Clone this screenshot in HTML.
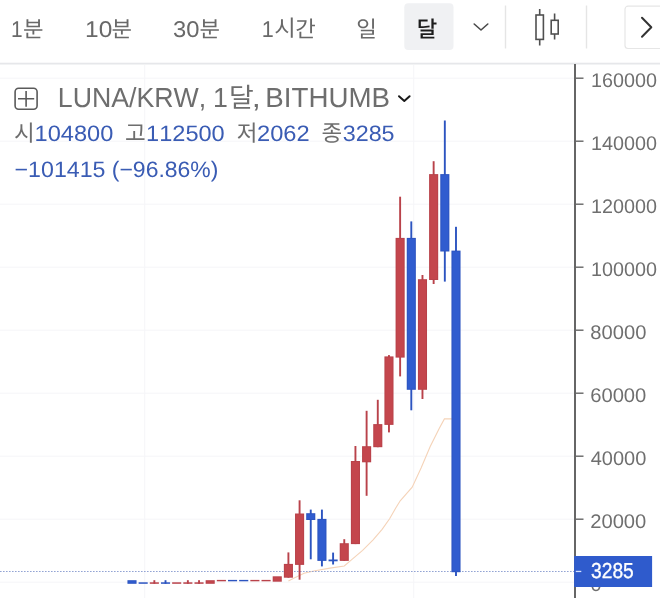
<!DOCTYPE html>
<html><head><meta charset="utf-8"><title>chart</title>
<style>
html,body{margin:0;padding:0;background:#fff;}
body{width:660px;height:598px;overflow:hidden;}
svg{display:block;font-family:"Liberation Sans","Noto Sans CJK KR",sans-serif;font-kerning:none;text-rendering:geometricPrecision;opacity:0.999;will-change:transform;}
</style></head><body>
<svg width="660" height="598" viewBox="0 0 660 598">
<rect width="660" height="598" fill="#fff"/>
<rect x="0" y="77.7" width="574" height="1" fill="#f5f6f8"/>
<rect x="0" y="140.7" width="574" height="1" fill="#f5f6f8"/>
<rect x="0" y="203.7" width="574" height="1" fill="#f5f6f8"/>
<rect x="0" y="266.7" width="574" height="1" fill="#f5f6f8"/>
<rect x="0" y="329.7" width="574" height="1" fill="#f5f6f8"/>
<rect x="0" y="392.7" width="574" height="1" fill="#f5f6f8"/>
<rect x="0" y="455.7" width="574" height="1" fill="#f5f6f8"/>
<rect x="0" y="518.7" width="574" height="1" fill="#f5f6f8"/>
<rect x="0" y="581.7" width="574" height="1" fill="#f5f6f8"/>
<rect x="144.2" y="65" width="1" height="533" fill="#f5f6f8"/>
<rect x="413.2" y="65" width="1" height="533" fill="#f5f6f8"/>
<rect x="0" y="62.7" width="660" height="1.8" fill="#e6e7ea"/>
<rect x="404.3" y="3.3" width="49.2" height="46.7" rx="4" fill="#f0f1f3"/>
<rect x="504.8" y="5.5" width="1.4" height="43" fill="#e5e5e5"/>
<rect x="585.8" y="5.5" width="1.4" height="43" fill="#e5e5e5"/>
<path d="M474.2 24 L481 30 L487.8 24" fill="none" stroke="#4a4a4a" stroke-width="1.6" stroke-linecap="round" stroke-linejoin="round"/>
<g fill="none" stroke="#505050" stroke-width="1.6"><path d="M539.7 9V15M539.7 39.4V45.5M554.6 13.6V20.3M554.6 34V39.4"/><rect x="536" y="15" width="7.4" height="24.4"/><rect x="551.2" y="20.3" width="7" height="13.7"/></g>
<rect x="625" y="6.2" width="50" height="42.3" rx="3" fill="#fff" stroke="#e6e6e6" stroke-width="1.2"/>
<path d="M642 17.8 L651.3 27.3 L642 36.8" fill="none" stroke="#333" stroke-width="2" stroke-linecap="round" stroke-linejoin="round"/>
<text transform="translate(11.11,36.60) scale(0.9155,1)" font-size="22.8" fill="#696969" font-weight="normal">1</text>
<text x="23.11" y="36.81" font-size="22.3" fill="#696969" font-weight="normal" font-family="'Liberation Sans','Noto Sans CJK KR',sans-serif">분</text>
<text transform="translate(85.04,36.60) scale(1.0733,1)" font-size="22.8" fill="#696969" font-weight="normal">10</text>
<text x="111.41" y="36.81" font-size="22.3" fill="#696969" font-weight="normal" font-family="'Liberation Sans','Noto Sans CJK KR',sans-serif">분</text>
<text transform="translate(172.99,36.60) scale(1.0423,1)" font-size="22.8" fill="#696969" font-weight="normal">30</text>
<text x="199.41" y="36.81" font-size="22.3" fill="#696969" font-weight="normal" font-family="'Liberation Sans','Noto Sans CJK KR',sans-serif">분</text>
<text transform="translate(261.76,36.60) scale(0.9461,1)" font-size="22.8" fill="#696969" font-weight="normal">1</text>
<text transform="translate(274.15,36.34) scale(1.0502,1)" font-size="22.3" fill="#696969" font-weight="normal" font-family="'Liberation Sans','Noto Sans CJK KR',sans-serif">시</text>
<text x="295.27" y="36.61" font-size="22.3" fill="#696969" font-weight="normal" font-family="'Liberation Sans','Noto Sans CJK KR',sans-serif">간</text>
<text x="356.13" y="36.62" font-size="22.4" fill="#696969" font-weight="normal" font-family="'Liberation Sans','Noto Sans CJK KR',sans-serif">일</text>
<text x="416.77" y="36.91" font-size="22.3" fill="#1c1c1c" font-weight="500" font-family="'Liberation Sans','Noto Sans CJK KR',sans-serif">달</text>
<rect x="15.1" y="88.3" width="22" height="21" rx="3.5" fill="none" stroke="#5a5a5a" stroke-width="1.6"/>
<path d="M26.1 91V106.8M18 98.8H34.2" stroke="#5a5a5a" stroke-width="1.6" fill="none"/>
<text transform="translate(57.81,107.00) scale(0.9712,1)" font-size="27.5" fill="#6e6e6e" font-weight="normal">LUNA/KRW,</text>
<text transform="translate(212.97,107.00) scale(0.9699,1)" font-size="27.5" fill="#6e6e6e" font-weight="normal">1</text>
<text x="228.98" y="107.33" font-size="26.9" fill="#6e6e6e" font-weight="normal" font-family="'Liberation Sans','Noto Sans CJK KR',sans-serif">달</text>
<text transform="translate(251.67,107.00) scale(1.1856,1)" font-size="27.5" fill="#6e6e6e" font-weight="normal">,</text>
<text transform="translate(265.33,107.00) scale(1.0080,1)" font-size="27.5" fill="#6e6e6e" font-weight="normal">BITHUMB</text>
<path d="M399 96.2 L404.3 101 L409.6 96.2" fill="none" stroke="#1a1a1a" stroke-width="2" stroke-linecap="round" stroke-linejoin="round"/>
<text x="13.99" y="140.73" font-size="22.5" fill="#6e6e6e" font-weight="normal" font-family="'Liberation Sans','Noto Sans CJK KR',sans-serif">시</text>
<text transform="translate(34.60,140.80) scale(1.0579,1)" font-size="22.3" fill="#3a5cb4" font-weight="normal">104800</text>
<text x="124.97" y="140.90" font-size="22.5" fill="#6e6e6e" font-weight="normal" font-family="'Liberation Sans','Noto Sans CJK KR',sans-serif">고</text>
<text transform="translate(146.11,140.80) scale(1.0565,1)" font-size="22.3" fill="#3a5cb4" font-weight="normal">112500</text>
<text x="236.75" y="140.53" font-size="22.5" fill="#6e6e6e" font-weight="normal" font-family="'Liberation Sans','Noto Sans CJK KR',sans-serif">저</text>
<text transform="translate(257.01,140.80) scale(1.0619,1)" font-size="22.3" fill="#3a5cb4" font-weight="normal">2062</text>
<text x="321.38" y="140.79" font-size="22.5" fill="#6e6e6e" font-weight="normal" font-family="'Liberation Sans','Noto Sans CJK KR',sans-serif">종</text>
<text transform="translate(342.71,140.80) scale(1.0455,1)" font-size="22.3" fill="#3a5cb4" font-weight="normal">3285</text>
<text transform="translate(14.56,176.80) scale(1.0398,1)" font-size="22.3" fill="#3a5cb4" font-weight="normal">−101415</text>
<text transform="translate(111.78,176.80) scale(1.0304,1)" font-size="22.3" fill="#3a5cb4" font-weight="normal">(−96.86%)</text>
<polyline fill="none" stroke="#f5d3b8" stroke-width="1.1" points="288.4,581.1 293.2,578.6 304.1,573.2 315.0,570.7 330.0,568.1 344.3,566.0 352.0,559.4 362.6,550.4 373.1,539.8 382.1,529.3 389.6,518.8 395.6,508.3 400.2,500.8 412.2,487.2 421.2,467.7 430.2,446.6 439.2,428.6 444.4,418.9 451.9,418.9"/>
<line x1="0" y1="571.5" x2="574" y2="571.5" stroke="#93a4d4" stroke-width="1" stroke-dasharray="1.6 1.4"/>
<rect x="127.45" y="580.2" width="9.1" height="3.6" fill="#2c54c0"/>
<rect x="128.45" y="581.2" width="7.1" height="1.6" fill="#305ccf"/>
<rect x="138.62" y="582.3" width="9.1" height="1.5" fill="#2c54c0"/>
<rect x="153.39" y="580.2" width="1.9" height="3.6" fill="#b9424a"/>
<rect x="149.79" y="582.3" width="9.1" height="1.5" fill="#b9424a"/>
<rect x="164.57" y="580.2" width="1.9" height="3.6" fill="#2c54c0"/>
<rect x="160.97" y="582.3" width="9.1" height="1.5" fill="#2c54c0"/>
<rect x="172.14" y="582.3" width="9.1" height="1.5" fill="#b9424a"/>
<rect x="186.91" y="580.2" width="1.9" height="3.6" fill="#b9424a"/>
<rect x="183.31" y="582.3" width="9.1" height="1.5" fill="#b9424a"/>
<rect x="198.08" y="580.2" width="1.9" height="3.6" fill="#b9424a"/>
<rect x="194.48" y="582.3" width="9.1" height="1.5" fill="#b9424a"/>
<rect x="205.65" y="580.2" width="9.1" height="3.6" fill="#b9424a"/>
<rect x="206.65" y="581.2" width="7.1" height="1.6" fill="#c4464d"/>
<rect x="216.83" y="579.9" width="9.1" height="1.4" fill="#b9424a"/>
<rect x="228.00" y="579.9" width="9.1" height="1.4" fill="#2c54c0"/>
<rect x="239.17" y="579.9" width="9.1" height="1.4" fill="#2c54c0"/>
<rect x="250.34" y="579.9" width="9.1" height="1.4" fill="#b9424a"/>
<rect x="261.51" y="579.9" width="9.1" height="1.4" fill="#b9424a"/>
<rect x="272.69" y="576.3" width="9.1" height="5.4" fill="#b9424a"/>
<rect x="273.69" y="577.3" width="7.1" height="3.4" fill="#c4464d"/>
<rect x="287.46" y="552.4" width="1.9" height="25.3" fill="#b9424a"/>
<rect x="283.86" y="563.9" width="9.1" height="13.8" fill="#b9424a"/>
<rect x="284.86" y="564.9" width="7.1" height="11.8" fill="#c4464d"/>
<rect x="298.63" y="500.3" width="1.9" height="79.4" fill="#b9424a"/>
<rect x="295.03" y="513.5" width="9.1" height="51.4" fill="#b9424a"/>
<rect x="296.03" y="514.5" width="7.1" height="49.4" fill="#c4464d"/>
<rect x="309.80" y="509.6" width="1.9" height="49.7" fill="#2c54c0"/>
<rect x="306.20" y="513.2" width="9.1" height="6.8" fill="#2c54c0"/>
<rect x="307.20" y="514.2" width="7.1" height="4.8" fill="#305ccf"/>
<rect x="320.97" y="509.6" width="1.9" height="56.8" fill="#2c54c0"/>
<rect x="317.37" y="518.9" width="9.1" height="42.0" fill="#2c54c0"/>
<rect x="318.37" y="519.9" width="7.1" height="40.0" fill="#305ccf"/>
<rect x="332.15" y="552.6" width="1.9" height="11.9" fill="#2c54c0"/>
<rect x="328.55" y="559.5" width="9.1" height="1.8" fill="#2c54c0"/>
<rect x="343.32" y="539.2" width="1.9" height="21.7" fill="#b9424a"/>
<rect x="339.72" y="543.2" width="9.1" height="17.7" fill="#b9424a"/>
<rect x="340.72" y="544.2" width="7.1" height="15.7" fill="#c4464d"/>
<rect x="354.49" y="446.0" width="1.9" height="98.1" fill="#b9424a"/>
<rect x="350.89" y="461.0" width="9.1" height="83.1" fill="#b9424a"/>
<rect x="351.89" y="462.0" width="7.1" height="81.1" fill="#c4464d"/>
<rect x="365.66" y="410.8" width="1.9" height="85.0" fill="#b9424a"/>
<rect x="362.06" y="446.2" width="9.1" height="16.1" fill="#b9424a"/>
<rect x="363.06" y="447.2" width="7.1" height="14.1" fill="#c4464d"/>
<rect x="376.83" y="399.8" width="1.9" height="47.4" fill="#b9424a"/>
<rect x="373.23" y="424.1" width="9.1" height="23.1" fill="#b9424a"/>
<rect x="374.23" y="425.1" width="7.1" height="21.1" fill="#c4464d"/>
<rect x="388.01" y="355.1" width="1.9" height="77.3" fill="#b9424a"/>
<rect x="384.41" y="356.4" width="9.1" height="68.5" fill="#b9424a"/>
<rect x="385.41" y="357.4" width="7.1" height="66.5" fill="#c4464d"/>
<rect x="399.18" y="196.7" width="1.9" height="179.7" fill="#b9424a"/>
<rect x="395.58" y="237.9" width="9.1" height="119.7" fill="#b9424a"/>
<rect x="396.58" y="238.9" width="7.1" height="117.7" fill="#c4464d"/>
<rect x="410.35" y="221.4" width="1.9" height="188.9" fill="#2c54c0"/>
<rect x="406.75" y="237.9" width="9.1" height="151.9" fill="#2c54c0"/>
<rect x="407.75" y="238.9" width="7.1" height="149.9" fill="#305ccf"/>
<rect x="421.52" y="275.0" width="1.9" height="124.0" fill="#b9424a"/>
<rect x="417.92" y="279.2" width="9.1" height="110.6" fill="#b9424a"/>
<rect x="418.92" y="280.2" width="7.1" height="108.6" fill="#c4464d"/>
<rect x="432.69" y="161.2" width="1.9" height="122.8" fill="#b9424a"/>
<rect x="429.09" y="174.1" width="9.1" height="105.9" fill="#b9424a"/>
<rect x="430.09" y="175.1" width="7.1" height="103.9" fill="#c4464d"/>
<rect x="443.87" y="120.5" width="1.9" height="161.1" fill="#2c54c0"/>
<rect x="440.27" y="174.1" width="9.1" height="77.4" fill="#2c54c0"/>
<rect x="441.27" y="175.1" width="7.1" height="75.4" fill="#305ccf"/>
<rect x="455.04" y="226.8" width="1.9" height="349.2" fill="#2c54c0"/>
<rect x="451.44" y="250.6" width="9.1" height="321.6" fill="#2c54c0"/>
<rect x="452.44" y="251.6" width="7.1" height="319.6" fill="#305ccf"/>
<rect x="574" y="64" width="2" height="534" fill="#666"/>
<rect x="576" y="77.5" width="7.5" height="1.4" fill="#666"/>
<text transform="translate(591.09,87.00) scale(0.9986,1)" font-size="19.8" fill="#6f6f6f" font-weight="normal">160000</text>
<rect x="576" y="140.5" width="7.5" height="1.4" fill="#666"/>
<text transform="translate(591.09,150.00) scale(0.9986,1)" font-size="19.8" fill="#6f6f6f" font-weight="normal">140000</text>
<rect x="576" y="203.5" width="7.5" height="1.4" fill="#666"/>
<text transform="translate(591.09,213.00) scale(0.9986,1)" font-size="19.8" fill="#6f6f6f" font-weight="normal">120000</text>
<rect x="576" y="266.5" width="7.5" height="1.4" fill="#666"/>
<text transform="translate(591.09,276.00) scale(0.9986,1)" font-size="19.8" fill="#6f6f6f" font-weight="normal">100000</text>
<rect x="576" y="329.5" width="7.5" height="1.4" fill="#666"/>
<text transform="translate(590.32,339.00) scale(1.0182,1)" font-size="19.8" fill="#6f6f6f" font-weight="normal">80000</text>
<rect x="576" y="392.5" width="7.5" height="1.4" fill="#666"/>
<text transform="translate(590.17,402.00) scale(1.0210,1)" font-size="19.8" fill="#6f6f6f" font-weight="normal">60000</text>
<rect x="576" y="455.5" width="7.5" height="1.4" fill="#666"/>
<text transform="translate(590.74,465.00) scale(1.0106,1)" font-size="19.8" fill="#6f6f6f" font-weight="normal">40000</text>
<rect x="576" y="518.5" width="7.5" height="1.4" fill="#666"/>
<text transform="translate(590.18,528.00) scale(1.0208,1)" font-size="19.8" fill="#6f6f6f" font-weight="normal">20000</text>
<rect x="576" y="581.5" width="7.5" height="1.4" fill="#666"/>
<text transform="translate(590.43,591.00) scale(1.0000,1)" font-size="19.8" fill="#6f6f6f" font-weight="normal">0</text>
<rect x="574.1" y="556" width="78" height="31" fill="#2f5bcc"/>
<rect x="575.8" y="570.8" width="5.5" height="1.3" fill="#d5e2ff"/>
<text transform="translate(591.07,578.40) scale(0.8853,1)" font-size="21.7" fill="#fff" font-weight="normal" stroke="#fff" stroke-width="0.35">3285</text>
</svg>
</body></html>
